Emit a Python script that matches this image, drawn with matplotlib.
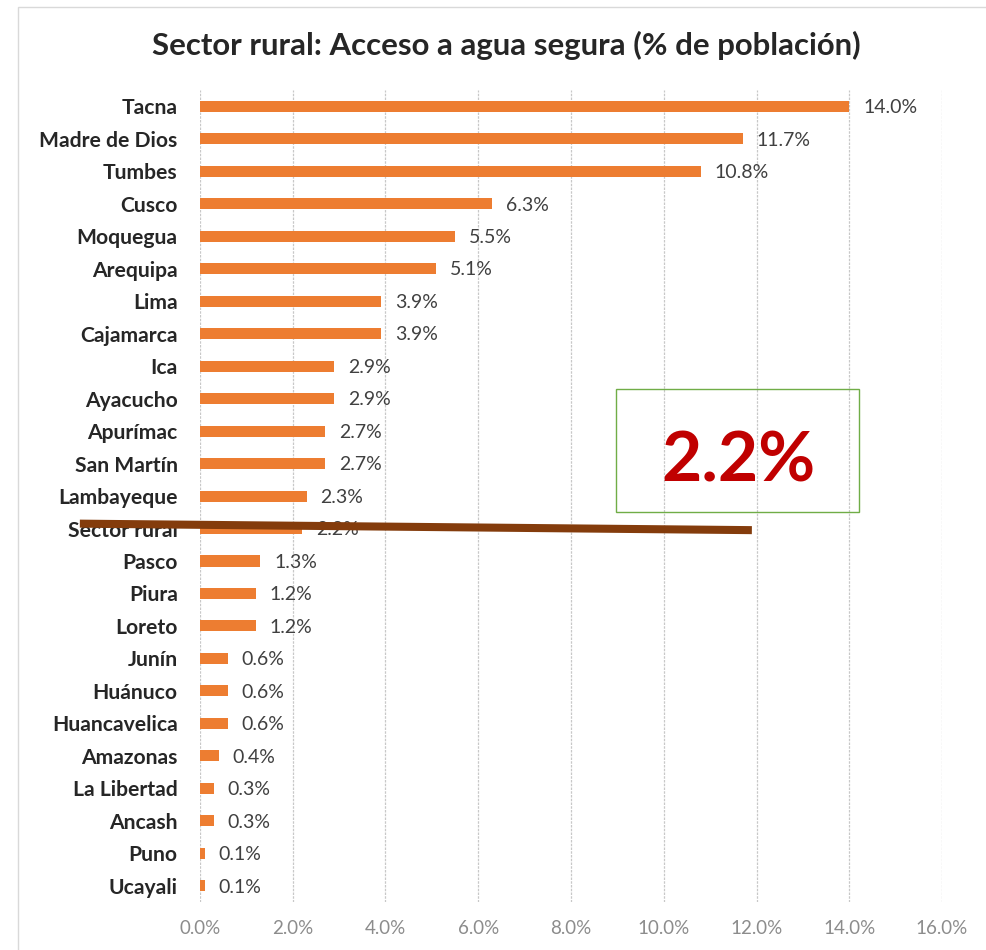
import numpy as np
import matplotlib
matplotlib.use('Agg')
import matplotlib.pyplot as plt
from matplotlib.patches import Rectangle

plt.rcParams['font.family'] = ['Lato', 'DejaVu Sans']

regiones = ['Tacna', 'Madre de Dios', 'Tumbes', 'Cusco', 'Moquegua', 'Arequipa',
            'Lima', 'Cajamarca', 'Ica', 'Ayacucho', 'Apurímac', 'San Martín',
            'Lambayeque', 'Sector rural', 'Pasco', 'Piura', 'Loreto', 'Junín',
            'Huánuco', 'Huancavelica', 'Amazonas', 'La Libertad', 'Ancash',
            'Puno', 'Ucayali']
acceso = [14.0, 11.7, 10.8, 6.3, 5.5, 5.1, 3.9, 3.9, 2.9, 2.9, 2.7, 2.7,
          2.3, 2.2, 1.3, 1.2, 1.2, 0.6, 0.6, 0.6, 0.4, 0.3, 0.3, 0.1, 0.1]
ticks = [0, 2, 4, 6, 8, 10, 12, 14, 16]
destacado = 'Sector rural'

fig = plt.figure(figsize=(9.86, 9.5), dpi=100)
ax = fig.add_axes([0.2028, 0.0505, 0.7526, 0.8547])

y = np.arange(len(regiones))
ax.barh(y, acceso, height=0.34, color='#ED7D31', zorder=2)
for yi, v in zip(y, acceso):
    ax.text(v + 0.3, yi + 0.04, f'{v:.1f}%', va='center', ha='left',
            fontsize=14, color='#404040', zorder=3)

ax.set_xlim(0, 16)
ax.set_ylim(len(regiones) - 0.5, -0.5)
ax.set_xticks(ticks)
ax.set_xticklabels([f'{t:.1f}%' for t in ticks], fontsize=13.5, color='#8c8c8c')
ax.set_yticks(y)
ax.set_yticklabels(regiones, fontsize=15.2, fontweight='bold', color='#262626')
ax.tick_params(axis='both', length=0)
ax.tick_params(axis='y', pad=16)
ax.tick_params(axis='x', pad=13)
ax.grid(axis='x', color='#c8c8c8', linestyle=(0, (2, 1)), linewidth=0.9, zorder=0)
for s in ax.spines.values():
    s.set_visible(False)

# linea y recuadro destacando el promedio rural
i = regiones.index(destacado)
ax.plot([-2.59, 11.9], [i - 0.15, i + 0.05], color='#843C0C', linewidth=5.8,
        solid_capstyle='butt', clip_on=False, zorder=4)
ax.add_patch(Rectangle((8.97, 8.71), 5.24, 3.78, fill=False,
                       edgecolor='#70AD47', linewidth=1, zorder=4))
ax.text(11.6, 10.95, f'{acceso[i]:.1f}%', ha='center', va='center',
        fontsize=50, fontweight='bold', color='#C00000', zorder=5)

fig.text(0.513, 0.952, 'Sector rural: Acceso a agua segura (% de población)',
         ha='center', va='center', fontsize=22.4, fontweight='bold', color='#262626')

# marco del grafico
fig.patches.append(Rectangle((18 / 986, -0.1), 1.1, 1.1 - 7 / 950,
                             transform=fig.transFigure, fill=False,
                             edgecolor='#d9d9d9', linewidth=1))

fig.savefig('out.png', dpi=100)
